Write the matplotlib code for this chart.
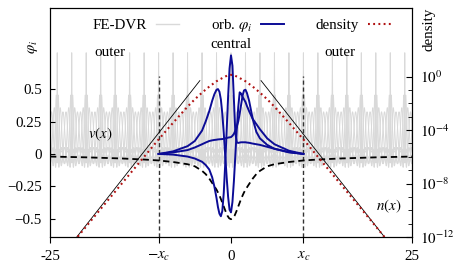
import numpy as np
import matplotlib
matplotlib.use("Agg")
import matplotlib.pyplot as plt
from matplotlib.lines import Line2D
from numpy.polynomial import legendre as L

plt.rcParams['font.family'] = ['Liberation Serif', 'DejaVu Serif']
plt.rcParams['mathtext.fontset'] = 'stix'
plt.rcParams['font.size'] = 10.8

# ---------------- data ----------------
x_c = 10

# FE-DVR grid: element boundaries and points per element, peak height of bridge functions
fe_boundaries = [-26, -24, -22, -20, -18, -16, -14, -12, -10, -8, -6, -4, -2, 0,
                 2, 4, 6, 8, 10, 12, 14, 16, 18, 20, 22, 24, 26]
fe_order = 8
fe_spike_height = 0.78

# potential v(x)
pot_x = [-25, -20, -15, -12, -10, -8, -6, -5, -4, -3.5, -3, -2.5, -2, -1.75, -1.5, -1.25,
         -1, -0.75, -0.5, -0.25, 0, 0.25, 0.5, 0.75, 1, 1.25, 1.5, 1.75, 2, 2.5, 3,
         3.5, 4, 5, 6, 8, 10, 12, 15, 20, 25]
pot_v = [-0.020, -0.026, -0.035, -0.043, -0.050, -0.062, -0.079, -0.095, -0.130, -0.155,
         -0.190, -0.232, -0.275, -0.302, -0.333, -0.368, -0.405, -0.442, -0.475, -0.496,
         -0.503, -0.496, -0.475, -0.442, -0.405, -0.368, -0.333, -0.302, -0.275, -0.232,
         -0.190, -0.155, -0.130, -0.095, -0.079, -0.062, -0.050, -0.043, -0.035, -0.026,
         -0.020]

# density n(x)
dens_x = [-25, -21.2, -18, -15, -12, -10, -8, -6, -5, -4, -3, -2, -1, -0.5, 0,
          0.5, 1, 2, 3, 4, 5, 6, 8, 10, 12, 15, 18, 21.2, 25]
dens_n = [5e-15, 1e-12, 1.26e-10, 1.12e-8, 1e-6, 2e-5, 3.5e-4, 5.6e-3, 2e-2, 6.3e-2,
          0.178, 0.447, 0.89, 1.2, 1.35, 1.2, 0.89, 0.447, 0.178, 6.3e-2, 2e-2,
          5.6e-3, 3.5e-4, 2e-5, 1e-6, 1.12e-8, 1.26e-10, 1e-12, 5e-15]

# asymptotic tangents of the density (endpoints)
asym_left_x = [-21.3, -4.3]
asym_left_n = [1e-12, 0.5]
asym_right_x = [4.15, 21.2]
asym_right_n = [0.5, 1e-12]

# orbitals in the central region
orb_x = [-10, -8, -6, -5, -4, -3.5, -3, -2.6, -2.3, -2.0, -1.8, -1.6, -1.4, -1.2, -1.0,
         -0.8, -0.6, -0.4, -0.2, 0.0, 0.2, 0.4, 0.6, 0.8, 1.0, 1.2, 1.4, 1.6, 1.8, 2.0,
         2.2, 2.5, 3.0, 3.5, 4, 5, 6, 8, 10]
orb_1 = [0.0, 0.02, 0.06, 0.10, 0.18, 0.25, 0.33, 0.41, 0.46, 0.495, 0.50, 0.48, 0.42,
         0.31, 0.16, -0.01, -0.18, -0.33, -0.43, -0.45, -0.37, -0.21, -0.01, 0.19, 0.36,
         0.475, 0.465, 0.44, 0.42, 0.40, 0.37, 0.33, 0.27, 0.23, 0.19, 0.12, 0.075, 0.025, 0.0]
orb_2 = [0.0, -0.005, -0.02, -0.035, -0.06, -0.085, -0.12, -0.18, -0.25, -0.34, -0.41,
         -0.46, -0.48, -0.44, -0.3, -0.08, 0.18, 0.44, 0.66, 0.76, 0.68, 0.42, 0.16, 0.09,
         0.085, 0.088, 0.09, 0.09, 0.09, 0.09, 0.088, 0.086, 0.08, 0.075, 0.07, 0.055,
         0.04, 0.015, 0.0]
orb_3 = [0.0, 0.012, 0.03, 0.05, 0.075, 0.088, 0.1, 0.105, 0.108, 0.11, 0.112, 0.113,
         0.114, 0.115, 0.117, 0.12, 0.123, 0.126, 0.128, 0.13, 0.14, 0.155, 0.18, 0.21,
         0.25, 0.31, 0.38, 0.45, 0.49, 0.495, 0.47, 0.41, 0.27, 0.17, 0.12, 0.07, 0.04,
         0.012, 0.0]
orbitals = [orb_1, orb_2, orb_3]

xtick_vals = [-25, -x_c, 0, x_c, 25]
xtick_labels = ['-25', r'$-x_c$', '0', r'$x_c$', '25']
ytick_vals = [-0.5, -0.25, 0, 0.25, 0.5]
ytick_labels = ['\u22120.5', '\u22120.25', '0', '0.25', '0.5']
dens_tick_exp = [-12, -8, -4, 0]
dens_minor_exp = list(range(-12, 1))

# ---------------- colours ----------------
c_gray = '#d9d9d9'
c_blue = '#0c0c96'
c_red = '#b01212'

fig = plt.figure(figsize=(4.63, 2.73), dpi=100)
ax = fig.add_axes([50/463, 1-237/273, 362/463, 229/273])
ax2 = ax.twinx()

# ---------------- FE-DVR basis functions ----------------
def gll(n):
    c = np.zeros(n); c[-1] = 1
    inner = L.legroots(L.legder(c))
    xs = np.concatenate([[-1.0], inner, [1.0]])
    ws = 2.0 / (n * (n - 1) * L.legval(xs, c) ** 2)
    return xs, ws

def lagr(t, nodes, j):
    out = np.ones_like(t)
    for k, xk in enumerate(nodes):
        if k != j:
            out *= (t - xk) / (nodes[j] - xk)
    return out

gx, gw = gll(fe_order)
scale = fe_spike_height * np.sqrt(2 * gw[0])
elems = list(zip(fe_boundaries[:-1], fe_boundaries[1:]))
for a, b in elems:
    h = b - a
    nodes = a + (gx + 1) * h / 2
    ws = gw * h / 2
    t = np.linspace(a, b, 160)
    for j in range(1, fe_order - 1):
        ax.plot(t, scale * lagr(t, nodes, j) / np.sqrt(ws[j]), color=c_gray, lw=0.7, zorder=1)
for e in range(len(elems) - 1):
    a1, b1 = elems[e]; a2, b2 = elems[e + 1]
    n1 = a1 + (gx + 1) * (b1 - a1) / 2
    n2 = a2 + (gx + 1) * (b2 - a2) / 2
    wb = gw[-1] * (b1 - a1) / 2 + gw[0] * (b2 - a2) / 2
    t1 = np.linspace(a1, b1, 160); t2 = np.linspace(a2, b2, 160)
    tt = np.concatenate([t1, t2])
    yy = np.concatenate([lagr(t1, n1, fe_order - 1), lagr(t2, n2, 0)]) * scale / np.sqrt(wb)
    ax.plot(tt, yy, color=c_gray, lw=0.7, zorder=1)

# ---------------- x_c markers, potential, orbitals ----------------
for xv in (-x_c, x_c):
    ax.plot([xv, xv], [-0.64, 0.6], color='#333333', lw=1.0, ls=(0, (3, 2)), zorder=2)
ax.plot(pot_x, pot_v, color='black', lw=1.3, ls=(0, (3.5, 2.2)), zorder=3)
for o in orbitals:
    ax.plot(orb_x, o, color=c_blue, lw=1.4, zorder=4)

ax.set_xlim(-25, 25)
ax.set_ylim(-0.64, 1.125)
ax.set_xticks(xtick_vals)
ax.set_xticklabels(xtick_labels)
ax.set_yticks(ytick_vals)
ax.set_yticklabels(ytick_labels)
ax.tick_params(axis='x', direction='out', length=4, pad=5)
ax.tick_params(axis='y', direction='in', length=3.5, pad=6)

# ---------------- density axis ----------------
ax2.set_yscale('log')
ax2.set_ylim(1e-12, 10 ** 5.13)
ax2.plot(dens_x, dens_n, color=c_red, lw=1.5, ls=(0, (0.9, 1.6)), zorder=5)
ax2.plot(asym_left_x, asym_left_n, color='black', lw=0.6, zorder=4)
ax2.plot(asym_right_x, asym_right_n, color='black', lw=0.6, zorder=4)
ax2.set_yticks([10.0 ** e for e in dens_tick_exp])
ax2.set_yticklabels([r'$10^{%d}$' % e if e == 0 else r'$10^{-%d}$' % (-e) for e in dens_tick_exp])
ax2.set_yticks([10.0 ** e for e in dens_minor_exp if e not in dens_tick_exp], minor=True)
ax2.yaxis.set_minor_formatter(matplotlib.ticker.NullFormatter())
ax2.tick_params(axis='y', which='major', direction='in', length=4, pad=6)
ax2.tick_params(axis='y', which='minor', direction='in', length=3)
ax2.set_xlim(-25, 25)

# ---------------- texts ----------------
ax.text(-0.047, 0.83, r'$\varphi_i$', transform=ax.transAxes, rotation=90,
        ha='center', va='center')
ax.text(1.046, 0.905, 'density', transform=ax.transAxes, rotation=90,
        ha='center', va='center')
ax.text(-16.7, 0.78, 'outer', ha='center', va='center')
ax.text(15.1, 0.78, 'outer', ha='center', va='center')
ax.text(0, 0.84, 'central', ha='center', va='center')
ax.text(-18.1, 0.15, r'$v(x)$', ha='center', va='center')
ax.text(21.8, -0.40, r'$n(x)$', ha='center', va='center')

handles = [Line2D([], [], color=c_gray, lw=1.0),
           Line2D([], [], color=c_blue, lw=1.4),
           Line2D([], [], color=c_red, lw=1.5, ls=(0, (0.9, 1.6)))]
labels = ['FE-DVR', r'orb. $\varphi_i$', 'density']
ax2.legend(handles, labels, ncol=3, loc='upper center', bbox_to_anchor=(0.53, 1.02),
           frameon=False, markerfirst=False, handlelength=1.55, handletextpad=0.6,
           columnspacing=2.1)

fig.savefig('out.png', dpi=100)
